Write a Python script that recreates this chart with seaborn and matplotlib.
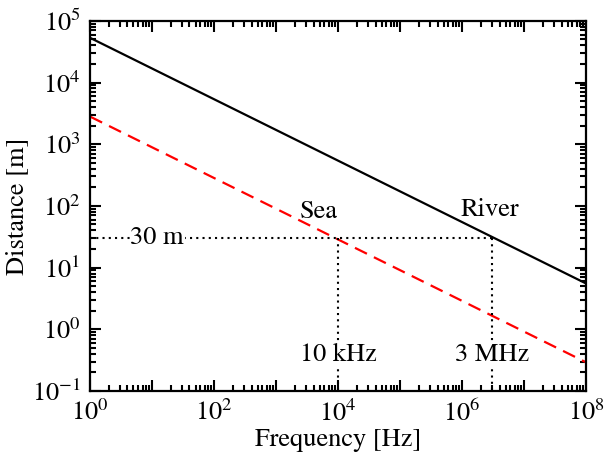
import matplotlib
matplotlib.use("Agg")
import matplotlib.pyplot as plt
import matplotlib.ticker as mticker
import seaborn as sns
import numpy as np

freq = [1e0, 1e8]
river = [5.3e4, 5.5]
sea = [2.8e3, 0.29]

sns.set_theme(style="ticks")
plt.rcParams['font.family'] = ['STIXGeneral', 'Liberation Serif', 'DejaVu Serif']
plt.rcParams['mathtext.fontset'] = 'stix'
for k in ['text.color', 'axes.labelcolor', 'xtick.color', 'ytick.color', 'axes.edgecolor']:
    plt.rcParams[k] = 'black'

fs = 19
fig = plt.figure(figsize=(6.05, 4.53), dpi=100)
ax = fig.add_axes([0.149, 0.137, 0.820, 0.817])

sns.lineplot(x=freq, y=river, color='black', lw=1.6, ax=ax)
sns.lineplot(x=freq, y=sea, color='red', lw=1.6, linestyle=(0, (6, 3.5)), ax=ax)

ax.set_xscale('log')
ax.set_yscale('log')
ax.set_xlim(1e0, 1e8)
ax.set_ylim(1e-1, 1e5)

# guide lines
dot = dict(color='black', lw=1.5, linestyle=(0, (1, 2)))
ax.plot([1e0, 3e6], [30, 30], **dot)
ax.plot([1e4, 1e4], [30, 1e-1], **dot)
ax.plot([3e6, 3e6], [30, 1e-1], **dot)

bbox = dict(facecolor='white', edgecolor='none', pad=0.5)
ax.text(12, 30, '30 m', fontsize=fs, ha='center', va='center', bbox=bbox)
ax.text(4.8e3, 80, 'Sea', fontsize=fs, ha='center', va='center')
ax.text(2.8e6, 87, 'River', fontsize=fs, ha='center', va='center')
ax.text(1e4, 0.38, '10 kHz', fontsize=fs, ha='center', va='center', bbox=bbox)
ax.text(3e6, 0.38, '3 MHz', fontsize=fs, ha='center', va='center', bbox=bbox)

def lab(e):
    return r'$10^{\mathrm{%s}}$' % (('-' + str(-e)) if e < 0 else str(e))

ax.xaxis.set_major_locator(mticker.LogLocator(base=10, numticks=20))
ax.xaxis.set_minor_locator(mticker.LogLocator(base=10, subs=np.arange(2, 10), numticks=20))
def xfmt(v, pos):
    e = int(round(np.log10(v)))
    return lab(e) if (e % 2 == 0 and 0 <= e <= 8) else ''
def yfmt(v, pos):
    e = int(round(np.log10(v)))
    return lab(e) if -1 <= e <= 5 else ''
ax.xaxis.set_major_formatter(mticker.FuncFormatter(xfmt))
ax.yaxis.set_major_locator(mticker.LogLocator(base=10, numticks=20))
ax.yaxis.set_minor_locator(mticker.LogLocator(base=10, subs=np.arange(2, 10), numticks=20))
ax.yaxis.set_major_formatter(mticker.FuncFormatter(yfmt))
ax.xaxis.set_minor_formatter(mticker.NullFormatter())
ax.yaxis.set_minor_formatter(mticker.NullFormatter())

ax.tick_params(which='both', direction='in', top=True, right=True, width=1.5, colors='black', labelsize=fs)
ax.tick_params(which='major', length=8, pad=7)
ax.tick_params(which='minor', length=4.5)
for s in ax.spines.values():
    s.set_linewidth(1.6)
    s.set_color('black')

ax.set_xlabel('Frequency [Hz]', fontsize=fs, labelpad=1)
ax.set_ylabel('Distance [m]', fontsize=fs, labelpad=2)

fig.savefig('out.png', dpi=100)
